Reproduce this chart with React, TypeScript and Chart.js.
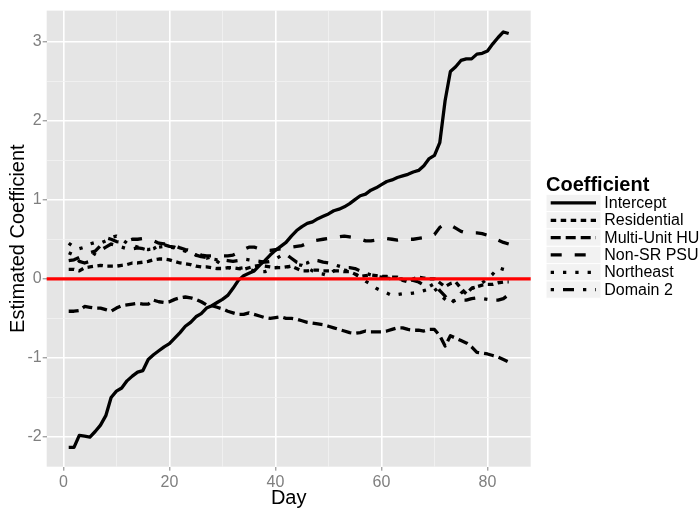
import React, { useEffect, useRef } from "react";
import { Chart, registerables } from "chart.js";

Chart.register(...registerables);

const days = [
  1, 2, 3, 4, 5, 6, 7, 8, 9, 10, 11, 12, 13, 14, 15, 16, 17, 18, 19, 20, 21,
  22, 23, 24, 25, 26, 27, 28, 29, 30, 31, 32, 33, 34, 35, 36, 37, 38, 39, 40,
  41, 42, 43, 44, 45, 46, 47, 48, 49, 50, 51, 52, 53, 54, 55, 56, 57, 58, 59,
  60, 61, 62, 63, 64, 65, 66, 67, 68, 69, 70, 71, 72, 73, 74, 75, 76, 77, 78,
  79, 80, 81, 82, 83, 84,
];

const intercept = [
  -2.13, -2.13, -1.98, -1.99, -2.0, -1.93, -1.85, -1.73, -1.5, -1.42,
  -1.38, -1.29, -1.23, -1.18, -1.16, -1.02, -0.96, -0.91, -0.86, -0.82,
  -0.75, -0.68, -0.6, -0.55, -0.48, -0.44, -0.37, -0.34, -0.3, -0.26,
  -0.21, -0.12, -0.02, 0.04, 0.07, 0.1, 0.17, 0.23, 0.3, 0.36,
  0.41, 0.46, 0.54, 0.61, 0.66, 0.7, 0.72, 0.76, 0.79, 0.82,
  0.86, 0.88, 0.91, 0.95, 1.0, 1.05, 1.07, 1.12, 1.15, 1.19,
  1.23, 1.25, 1.28, 1.3, 1.32, 1.35, 1.37, 1.43, 1.52, 1.56,
  1.72, 2.25, 2.62, 2.68, 2.76, 2.78, 2.78, 2.84, 2.85, 2.88,
  2.97, 3.05, 3.12, 3.1,
];

const residential = [
  0.12, 0.12, 0.1, 0.14, 0.15, 0.16, 0.17, 0.16, 0.16, 0.16,
  0.17, 0.18, 0.2, 0.2, 0.21, 0.22, 0.24, 0.25, 0.25, 0.24,
  0.22, 0.2, 0.19, 0.18, 0.16, 0.15, 0.15, 0.14, 0.13, 0.13,
  0.14, 0.14, 0.13, 0.12, 0.14, 0.16, 0.17, 0.16, 0.15, 0.14,
  0.14, 0.15, 0.16, 0.13, 0.1, 0.1, 0.11, 0.11, 0.1, 0.1,
  0.1, 0.1, 0.09, 0.09, 0.06, 0.03, 0.04, 0.05, 0.04, 0.03,
  0.03, 0.02, 0.02, -0.02, -0.04, 0.0, 0.02, 0.01, 0.0, 0.0,
  -0.05, -0.1, -0.06, -0.04, -0.12, -0.19, -0.12, -0.1, -0.08, -0.07,
  -0.07, -0.05, -0.04, -0.04,
];

const multiUnitHU = [
  -0.41, -0.41, -0.4, -0.35, -0.36, -0.37, -0.37, -0.39, -0.41, -0.37,
  -0.34, -0.33, -0.32, -0.31, -0.32, -0.32, -0.27, -0.29, -0.3, -0.29,
  -0.26, -0.24, -0.23, -0.24, -0.26, -0.29, -0.33, -0.34, -0.36, -0.38,
  -0.41, -0.43, -0.45, -0.45, -0.43, -0.45, -0.47, -0.49, -0.5, -0.49,
  -0.48, -0.5, -0.5, -0.51, -0.53, -0.55, -0.56, -0.57, -0.58, -0.6,
  -0.62, -0.64, -0.66, -0.68, -0.69, -0.68, -0.66, -0.67, -0.67, -0.67,
  -0.66, -0.64, -0.62, -0.62, -0.64, -0.65, -0.65, -0.66, -0.64, -0.64,
  -0.72, -0.85, -0.72, -0.75, -0.78, -0.81, -0.86, -0.93, -0.94, -0.95,
  -0.97, -0.99, -1.02, -1.05,
];

const nonSRPSU = [
  0.23, 0.24, 0.27, 0.3, 0.33, 0.35, 0.42, 0.52, 0.5, 0.47,
  0.46, 0.48, 0.5, 0.5, 0.51, 0.5, 0.48, 0.45, 0.44, 0.44,
  0.42, 0.39, 0.37, 0.36, 0.33, 0.3, 0.29, 0.29, 0.29, 0.29,
  0.29, 0.3, 0.33, 0.37, 0.4, 0.4, 0.38, 0.36, 0.36, 0.37,
  0.38, 0.39, 0.4, 0.41, 0.42, 0.45, 0.48, 0.49, 0.5, 0.51,
  0.52, 0.53, 0.54, 0.53, 0.52, 0.5, 0.48, 0.48, 0.49, 0.5,
  0.51, 0.5, 0.49, 0.5, 0.5, 0.5, 0.51, 0.52, 0.53, 0.56,
  0.65, 0.69, 0.68, 0.64, 0.6, 0.58, 0.58, 0.58, 0.57, 0.55,
  0.52, 0.49, 0.46, 0.44,
];

const northeast = [
  0.45, 0.4, 0.38, 0.4, 0.44, 0.46, 0.45, 0.48, 0.52, 0.54,
  0.5, 0.45, 0.42, 0.4, 0.38, 0.37, 0.38, 0.4, 0.41, 0.4,
  0.39, 0.37, 0.35, 0.33, 0.3, 0.27, 0.26, 0.28, 0.22, 0.17,
  0.14, 0.13, 0.13, 0.14, 0.12, 0.1, 0.09, 0.09, 0.12, 0.14,
  0.15, 0.15, 0.16, 0.18, 0.17, 0.14, 0.1, 0.07, 0.06, 0.04,
  0.1, 0.12, 0.11, 0.1, 0.06, 0.02, -0.03, -0.07, -0.12, -0.15,
  -0.18, -0.21, -0.2, -0.19, -0.19, -0.18, -0.17, -0.15, -0.13, -0.12,
  -0.2, -0.26, -0.32, -0.25, -0.18, -0.14, -0.12, -0.1, -0.05, 0.0,
  0.06, 0.14, 0.12, 0.1,
];

const domain2 = [
  0.33, 0.3, 0.22, 0.2, 0.22, 0.33, 0.36, 0.4, 0.44, 0.42,
  0.4, 0.38, 0.38, 0.39, 0.38, 0.36, 0.38, 0.42, 0.43, 0.41,
  0.4, 0.37, 0.36, 0.34, 0.3, 0.28, 0.27, 0.25, 0.24, 0.24,
  0.23, 0.22, 0.23, 0.25, 0.24, 0.23, 0.22, 0.21, 0.22, 0.25,
  0.29, 0.31, 0.26, 0.21, 0.19, 0.2, 0.24, 0.23, 0.21, 0.2,
  0.18, 0.16, 0.14, 0.14, 0.13, 0.1, 0.07, 0.05, 0.03, 0.02,
  0.01, 0.0, 0.0, 0.0, -0.01, -0.02, -0.04, -0.08, -0.1, -0.06,
  -0.15, -0.22, -0.3, -0.27, -0.27, -0.27, -0.25, -0.24, -0.25, -0.26,
  -0.27, -0.27, -0.25, -0.2,
];

const seriesLabels = ["Intercept", "Residential", "Multi-Unit HU", "Non-SR PSU", "Northeast", "Domain 2"];
const xMajorTicks = [0, 20, 40, 60, 80];
const xMinorTicks = [10, 30, 50, 70];
const yMajorTicks = [-2, -1, 0, 1, 2, 3];
const yMinorTicks = [-1.5, -0.5, 0.5, 1.5, 2.5];
const xTitle = "Day";
const yTitle = "Estimated Coefficient";
const legendTitle = "Coefficient";

const FONT = '"Liberation Sans", Arial, Helvetica, sans-serif';

export default function App() {
  const ref = useRef<HTMLCanvasElement>(null);

  useEffect(() => {
    document.body.style.margin = "0";
    const canvas = ref.current;
    if (!canvas) return;

    const seriesData = [intercept, residential, multiUnitHU, nonSRPSU, northeast, domain2];
    const dashes: number[][] = [[], [5.5, 4.5], [10, 5], [11, 13], [3.3, 9], [3.3, 9, 11, 9]];

    const panelBg = {
      id: "panelBg",
      beforeDraw(chart: any) {
        const { ctx, chartArea: a } = chart;
        ctx.save();
        ctx.fillStyle = "#E5E5E5";
        ctx.fillRect(a.left, a.top, a.right - a.left, a.bottom - a.top);
        ctx.restore();
      },
    };

    const zeroLine = {
      id: "zeroLine",
      afterDatasetsDraw(chart: any) {
        const { ctx, chartArea: a } = chart;
        const y = chart.scales.y.getPixelForValue(0);
        ctx.save();
        ctx.strokeStyle = "#FF0000";
        ctx.lineWidth = 3.3;
        ctx.beginPath();
        ctx.moveTo(a.left, y);
        ctx.lineTo(a.right, y);
        ctx.stroke();
        ctx.restore();
      },
    };

    const ggLegend = {
      id: "ggLegend",
      afterDraw(chart: any) {
        const c = chart.ctx;
        c.save();
        c.fillStyle = "#000";
        c.font = `bold 20px ${FONT}`;
        c.textAlign = "left";
        c.textBaseline = "alphabetic";
        c.fillText(legendTitle, 546, 190.5);
        const h = 17.33;
        seriesLabels.forEach((label, i) => {
          const top = 194.3 + i * h;
          c.fillStyle = "#F2F2F2";
          c.fillRect(546, top, 55, h);
          c.strokeStyle = "#FFFFFF";
          c.lineWidth = 1;
          c.strokeRect(546, top, 55, h);
          c.strokeStyle = "#000";
          c.lineWidth = 3.3;
          c.lineCap = "butt";
          c.setLineDash(dashes[i]);
          c.beginPath();
          c.moveTo(550.7, top + h / 2);
          c.lineTo(596, top + h / 2);
          c.stroke();
          c.setLineDash([]);
          c.fillStyle = "#000";
          c.font = `16px ${FONT}`;
          c.textBaseline = "middle";
          c.fillText(label, 604.3, top + h / 2 + 0.5);
        });
        c.restore();
      },
    };

    const isMajorX = (v: number) => xMajorTicks.includes(v);
    const isMajorY = (v: number) => yMajorTicks.includes(v);

    const chart = new Chart(canvas, {
      type: "line",
      data: {
        datasets: seriesLabels.map((label, i) => ({
          label,
          data: days.map((d, j) => ({ x: d, y: seriesData[i][j] })),
          borderColor: "#000000",
          backgroundColor: "#000000",
          borderWidth: 3.3,
          borderDash: dashes[i],
          borderCapStyle: "butt",
          borderJoinStyle: "round",
          pointRadius: 0,
          pointHoverRadius: 0,
          fill: false,
          tension: 0,
        })),
      },
      options: {
        responsive: false,
        animation: false,
        devicePixelRatio: 1,
        events: [],
        layout: { padding: { top: 5.7, right: 169.3, left: 0, bottom: 0 } },
        plugins: { legend: { display: false }, tooltip: { enabled: false } },
        scales: {
          x: {
            type: "linear",
            min: -3.15,
            max: 88.15,
            afterBuildTicks: (s: any) => {
              s.ticks = [...xMajorTicks, ...xMinorTicks].sort((a, b) => a - b).map((v) => ({ value: v }));
            },
            afterFit: (s: any) => {
              s.height = 41.3;
            },
            ticks: {
              autoSkip: false,
              maxRotation: 0,
              padding: 2,
              color: "#7F7F7F",
              font: { family: FONT, size: 16 },
              callback: (v: any) => (isMajorX(Number(v)) ? String(v) : ""),
            },
            grid: {
              color: (ctx: any) => (ctx.tick && isMajorX(ctx.tick.value) ? "#FFFFFF" : "#F2F2F2"),
              lineWidth: (ctx: any) => (ctx.tick && isMajorX(ctx.tick.value) ? 1.6 : 0.8),
              tickColor: (ctx: any) => (ctx.tick && isMajorX(ctx.tick.value) ? "#7F7F7F" : "rgba(0,0,0,0)"),
              tickLength: 4,
              tickWidth: 1,
            },
            border: { display: false },
            title: {
              display: true,
              text: xTitle,
              color: "#000",
              font: { family: FONT, size: 20, lineHeight: 1 },
              padding: { top: 0, bottom: 0 },
            },
          },
          y: {
            type: "linear",
            min: -2.375,
            max: 3.39,
            afterBuildTicks: (s: any) => {
              s.ticks = [...yMajorTicks, ...yMinorTicks].sort((a, b) => a - b).map((v) => ({ value: v }));
            },
            afterFit: (s: any) => {
              s.width = 46.7;
            },
            ticks: {
              autoSkip: false,
              padding: 1,
              color: "#7F7F7F",
              font: { family: FONT, size: 16 },
              callback: (v: any) => (isMajorY(Number(v)) ? String(v) : ""),
            },
            grid: {
              color: (ctx: any) => (ctx.tick && isMajorY(ctx.tick.value) ? "#FFFFFF" : "#F2F2F2"),
              lineWidth: (ctx: any) => (ctx.tick && isMajorY(ctx.tick.value) ? 1.6 : 0.8),
              tickColor: (ctx: any) => (ctx.tick && isMajorY(ctx.tick.value) ? "#7F7F7F" : "rgba(0,0,0,0)"),
              tickLength: 4,
              tickWidth: 1,
            },
            border: { display: false },
            title: {
              display: true,
              text: yTitle,
              color: "#000",
              font: { family: FONT, size: 20, lineHeight: 1 },
              padding: { top: 8, bottom: 0 },
            },
          },
        },
      },
      plugins: [panelBg, zeroLine, ggLegend],
    } as any);

    return () => chart.destroy();
  }, []);

  return (
    <div style={{ position: "absolute", left: 0, top: 0, width: 700, height: 508, background: "#FFFFFF" }}>
      <canvas ref={ref} width={700} height={508} style={{ display: "block", width: 700, height: 508 }} />
    </div>
  );
}
